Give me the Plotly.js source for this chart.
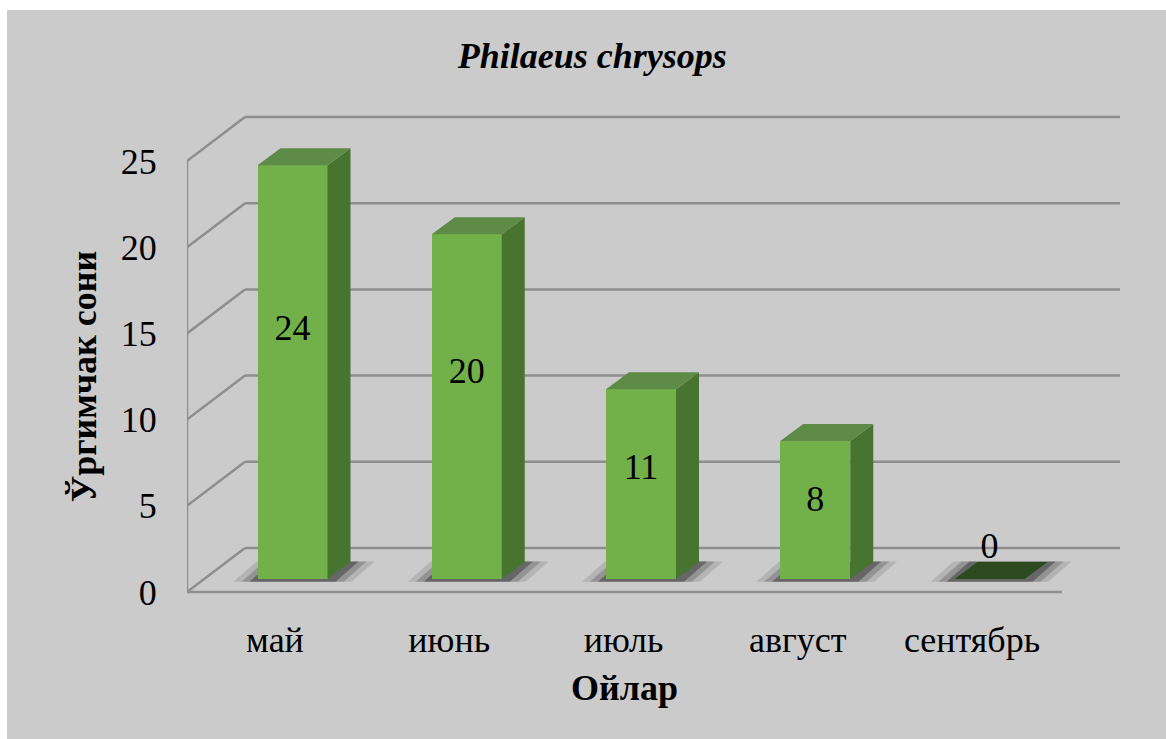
<!DOCTYPE html>
<html>
<head>
<meta charset="utf-8">
<script src="https://cdn.plot.ly/plotly-3.0.1.min.js"></script>
<style>
  html, body { margin: 0; padding: 0; background: #ffffff; }
  #chart { position: absolute; left: 7px; top: 10px; width: 1159px; height: 729px; }
</style>
</head>
<body>
<div id="chart"></div>
<script>
// ---- data ----
const chartTitle = "Philaeus chrysops";
const months = ["май", "июнь", "июль", "август", "сентябрь"];
const counts = [24, 20, 11, 8, 0];
const yTicks = [0, 5, 10, 15, 20, 25];
const xTitle = "Ойлар";
const yTitle = "Ўргимчак сони";

// ---- geometry (pixels, figure coords) ----
const W = 1159, H = 729;
const plotL = 180, plotR = 1113, plotT = 103, plotB = 595;
const UX = 174.25;          // px per category
const UY = 17.24;           // px per unit
const barZeroY = 569;       // bar plane: value 0
const barCat0X = 285.5;     // bar plane: first category centre
const frontZeroY = 582;     // front plane: value 0
const frontCat0X = 268;     // front plane: first category centre
const DX = 58, DY = 44;     // depth of the box (front -> back)
const barW = 70, barDX = 23, barDY = 17; // bar front width and depth

const xr = [(plotL - barCat0X) / UX, (plotR - barCat0X) / UX];
const yr = [(barZeroY - plotB) / UY, (barZeroY - plotT) / UY];
const pw = plotR - plotL, ph = plotB - plotT;

const fx = (frontCat0X - barCat0X) / UX;
const fy = -(frontZeroY - barZeroY) / UY;
const ddx = DX / UX, ddy = DY / UY;
const bx = fx + ddx, by = fy + ddy;

const xIdx = months.map((m, i) => i);
const wU = barW / UX, sdx = barDX / UX, sdy = barDY / UY;

const serif = "Liberation Serif";

// gridlines (perspective box)
const gridColor = "#8e8e8e";
const shapes = [];
const ln = (x0, y0, x1, y1) => ({type: "line", xref: "x", yref: "y", x0, y0, x1, y1, layer: "below",
  line: {color: gridColor, width: 2.5}});
yTicks.forEach(v => {
  shapes.push(ln(xr[0], v + fy, xr[0] + ddx, v + by));
  shapes.push(ln(xr[0] + ddx, v + by, xr[1], v + by));
});
shapes.push(ln(xr[0], fy, xr[0], yTicks[yTicks.length - 1] + fy));
shapes.push(ln(xr[0], fy, xr[1] - ddx, fy));

// floor shadows under each bar (below the traces)
function shadowPath(i, grow, lift) {
  const g = grow / UX, l = lift / UY;
  const xL = i - wU / 2 - g, xR = i + wU / 2 + g;
  return "M" + xL + "," + (l - 0.2) + " L" + xR + "," + (l - 0.2) +
         " L" + (xR + sdx) + "," + (sdy + l) + " L" + (xL + sdx) + "," + (sdy + l) + " Z";
}
counts.forEach((v, i) => {
  shapes.push({type: "path", xref: "x", yref: "y", layer: "below", path: shadowPath(i, 24, 0.6),
               fillcolor: "rgba(40,40,40,0.14)", line: {width: 0}});
  shapes.push({type: "path", xref: "x", yref: "y", layer: "below", path: shadowPath(i, 16, 0.6),
               fillcolor: "rgba(30,30,30,0.22)", line: {width: 0}});
  shapes.push({type: "path", xref: "x", yref: "y", layer: "below", path: shadowPath(i, 8, 0.6),
               fillcolor: "rgba(20,20,20,0.35)", line: {width: 0}});
});

// polygons for 3D faces
function poly(builder, filter) {
  const xs = [], ys = [];
  counts.forEach((v, i) => {
    if (filter && !filter(v)) return;
    builder(i, v).forEach(p => { xs.push(p[0]); ys.push(p[1]); });
    xs.push(null); ys.push(null);
  });
  return {xs, ys};
}
const side = poly((i, v) => {
  const xR = i + wU / 2;
  return [[xR, 0], [xR, v], [xR + sdx, v + sdy], [xR + sdx, sdy]];
}, v => v > 0);
const topBuild = (i, v) => {
  const xL = i - wU / 2, xR = i + wU / 2;
  return [[xL, v], [xR, v], [xR + sdx, v + sdy], [xL + sdx, v + sdy]];
};
const tops = poly(topBuild, v => v > 0);
const flatTops = poly(topBuild, v => v === 0);

const traces = [
  {type: "bar", x: xIdx, y: counts, width: wU, marker: {color: "#72b14a", line: {width: 0}},
   text: months, hovertemplate: "%{text}: %{y}<extra></extra>", textposition: "none", showlegend: false},
  {type: "scatter", x: side.xs, y: side.ys, mode: "lines", fill: "toself",
   fillcolor: "#477530", line: {width: 0}, hoverinfo: "skip", showlegend: false},
  {type: "scatter", x: tops.xs, y: tops.ys, mode: "lines", fill: "toself",
   fillcolor: "#5f8b48", line: {width: 0}, hoverinfo: "skip", showlegend: false},
  {type: "scatter", x: flatTops.xs, y: flatTops.ys, mode: "lines", fill: "toself",
   fillcolor: "#2c4a20", line: {width: 0}, hoverinfo: "skip", showlegend: false},
  {type: "scatter", x: xIdx, y: counts.map(v => v > 0 ? 0.62 * v - 0.5 : v + 1.75), mode: "text",
   text: counts.map(String), textposition: "middle center",
   textfont: {family: serif, size: 36, color: "#000000"}, hoverinfo: "skip", showlegend: false},
  // front-plane axes (tick labels only)
  {type: "scatter", x: [], y: [], xaxis: "x2", yaxis: "y2", showlegend: false, hoverinfo: "skip"}
];

const x2dom = [0, (pw - DX) / pw];
const x2range = [(plotL - frontCat0X) / UX, (plotL + pw - DX - frontCat0X) / UX];
const yTop = yTicks[yTicks.length - 1];
const y2dom = [(plotB - frontZeroY) / ph, (plotB - (frontZeroY - yTop * UY)) / ph];

const layout = {
  width: W, height: H,
  paper_bgcolor: "#cbcbcb", plot_bgcolor: "rgba(0,0,0,0)",
  margin: {l: plotL, r: W - plotR, t: plotT, b: H - plotB, pad: 0},
  font: {family: serif, color: "#000000", size: 36},
  title: {text: chartTitle, x: 0.505, xref: "container", xanchor: "center",
          y: 1 - 45 / H, yref: "container", yanchor: "middle",
          font: {family: serif, size: 36, weight: "bold", style: "italic", color: "#000"}},
  showlegend: false,
  hovermode: "closest",
  bargap: 0,
  xaxis: {type: "linear", range: xr, visible: false, fixedrange: true},
  yaxis: {type: "linear", range: yr, visible: false, fixedrange: true},
  xaxis2: {type: "linear", domain: x2dom, range: x2range, anchor: "y2",
           tickmode: "array", tickvals: xIdx, ticktext: months,
           ticks: "outside", ticklen: 16, tickcolor: "rgba(0,0,0,0)",
           showgrid: false, zeroline: false, showline: false,
           tickfont: {family: serif, size: 36, color: "#000"},
           title: {text: xTitle, standoff: 15, font: {family: serif, size: 36, weight: "bold", color: "#000"}},
           fixedrange: true},
  yaxis2: {type: "linear", domain: y2dom, range: [0, yTop], anchor: "x2",
           tickmode: "array", tickvals: yTicks,
           ticks: "outside", ticklen: 22, tickcolor: "rgba(0,0,0,0)",
           showgrid: false, zeroline: false, showline: false,
           tickfont: {family: serif, size: 36, color: "#000"},
           title: {text: yTitle, standoff: 13, font: {family: serif, size: 36, weight: "bold", color: "#000"}},
           fixedrange: true},
  shapes: shapes
};

Plotly.newPlot("chart", traces, layout, {displayModeBar: false, responsive: false});
</script>
</body>
</html>
